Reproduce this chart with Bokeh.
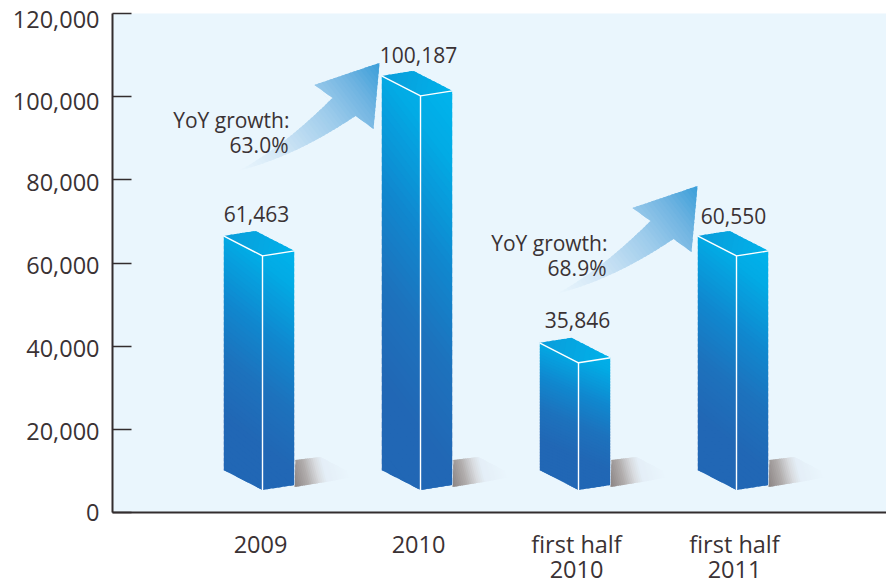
from bokeh.plotting import figure
from bokeh.models import Range1d, FixedTicker, LinearAxis
from bokeh.core.properties import value
from bokeh.embed import file_html
from bokeh.resources import INLINE

# ---- data ----
categories = ["2009", "2010", "first half\n2010", "first half\n2011"]
values = [61463, 100187, 35846, 60550]
value_labels = ["61,463", "100,187", "35,846", "60,550"]
# the last column is drawn slightly taller than its printed figure
drawn_heights = [61700, 100187, 36000, 61700]
growth_labels = [("YoY growth:", "63.0%"), ("YoY growth:", "68.9%")]
y_ticks = [0, 20000, 40000, 60000, 80000, 100000, 120000]
y_tick_labels = ["0", "20,000", "40,000", "60,000", "80,000", "100,000", "120,000"]
y_label_drop = [0, 2, 2, 2, 3, 5, 6]   # the printed labels sit a little below their ticks

# ---- layout / style ----
FONT = "Open Sans"
TEXT = "#3a3234"
BG = "#eaf6fd"
W, H = 886, 588
LEFT, TOP, BOTTOM = 112, 13, 76
UX = 158.0                     # pixels per category step
UY = 499.0 / 120000.0          # pixels per value unit
X0_PX = 148.0                  # distance of the first category from the y axis
BAR_SHIFT = 2.0
BASE_PX = 22.5                 # the front foot of a column floats this far above the axis


def dx(px):
    return px / UX


def dy(px):
    return -px / UY          # px measured downward


def lerp(a, b, t):
    return a + (b - a) * t


def hex2rgb(h):
    return tuple(int(h[i:i + 2], 16) for i in (1, 3, 5))


def ramp(stops, t):
    t = max(0.0, min(1.0, t))
    for (t0, c0), (t1, c1) in zip(stops, stops[1:]):
        if t <= t1:
            f = (t - t0) / (t1 - t0) if t1 > t0 else 0
            a, b = hex2rgb(c0), hex2rgb(c1)
            return "#%02x%02x%02x" % tuple(round(lerp(a[i], b[i], f)) for i in range(3))
    return stops[-1][1]


FACE = [(0, "#00b6ee"), (0.22, "#02abe5"), (0.5, "#1088cf"), (0.75, "#1d72bd"), (1, "#2167b5")]
TOPF = [(0, "#0a9cda"), (1, "#00b2ea")]
ARROW = [(0, BG), (0.25, "#d3e7f6"), (0.6, "#9ccbeb"), (0.8, "#72b5e2"), (1, "#3a9ed8")]
SHADOW = [(0, "#8a8382"), (0.25, "#b0acac"), (0.45, "#d8dbdf"), (0.58, "#e4eef7"), (1, BG)]

px_polys, py_polys, poly_cols = [], [], []


def add_poly(pts, col):
    px_polys.append([p[0] for p in pts])
    py_polys.append([p[1] for p in pts])
    poly_cols.append(col)


def off(base, ox, oy):
    return (base[0] + dx(ox), base[1] + dy(oy))


def clip(poly, ox, oy, nx, ny, limit, keep_less):
    out = []
    def f(p):
        s = (p[0] - ox) * nx + (p[1] - oy) * ny - limit
        return -s if keep_less else s
    n = len(poly)
    for i in range(n):
        a, b = poly[i], poly[(i + 1) % n]
        fa, fb = f(a), f(b)
        if fa >= 0:
            out.append(a)
        if (fa >= 0) != (fb >= 0):
            r = fa / (fa - fb)
            out.append((lerp(a[0], b[0], r), lerp(a[1], b[1], r)))
    return out


def gradient_poly(px_pts, base, start, end, stops, bands, tmax=1.0):
    """px_pts: pixel offsets from base; gradient runs from start to end (pixel offsets)."""
    vx, vy = end[0] - start[0], end[1] - start[1]
    L2 = vx * vx + vy * vy
    nx, ny = vx / L2, vy / L2
    for k in range(bands):
        t0, t1 = tmax * k / bands, tmax * (k + 1.6) / bands
        b = clip(px_pts, start[0], start[1], nx, ny, t0, False)
        if b:
            b = clip(b, start[0], start[1], nx, ny, t1, True)
        if len(b) >= 3:
            add_poly([off(base, p[0], p[1]) for p in b], ramp(stops, tmax * (k + 0.5) / bands))


def bez(a, c, b, n=12):
    return [(lerp(lerp(a[0], c[0], i / n), lerp(c[0], b[0], i / n), i / n),
             lerp(lerp(a[1], c[1], i / n), lerp(c[1], b[1], i / n), i / n)) for i in range(n + 1)]


def arrow(base):
    # outline in pixel offsets from the arrow tip
    up = (-47, 35)
    low = (-24, 53)
    tail = (-141, 108)
    pts = [(0, 0), (-65, 22), up]
    pts += bez(up, (-96, 84), tail)[1:]
    pts += bez(tail, (-83, 93), low)[1:]
    pts += [(-6, 66)]
    gradient_poly(pts, base, tail, (0, 0), ARROW, 46)


edge_x, edge_y = [], []
soft_x, soft_y = [], []
txt_x, txt_y, txt_s = [], [], []
fronts = []

label_dx = [-6, -2, -1, -3]
label_dy = [-42, -41, -43, -40]

for i, h in enumerate(drawn_heights):
    F = (i + dx(BAR_SHIFT), h)
    fronts.append(F)
    L, R = off(F, -39, -20), off(F, 32, -5)
    Fb = (F[0], dy(-BASE_PX))
    Lb, Rb = off(Fb, -39, -20), off(Fb, 32, -5)
    hp = (F[1] - Fb[1]) * UY
    gradient_poly([(1, -25), (26, -28), (62, -9), (37, -4), (0, 2)], Rb, (0, 2), (55, -12), SHADOW, 30)
    # diagonal gradient shared by both side faces: bright at the upper right
    na, nb = -1 / 300.0, 1 / hp
    n2 = na * na + nb * nb
    s = (32, -20)
    e = (s[0] + na / n2, s[1] + nb / n2)
    gradient_poly([(-39, -20), (0, 0), (0, hp), (-39, hp - 20)], F, s, e, FACE, 56, tmax=1.3)
    gradient_poly([(0, 0), (32, -5), (32, hp - 5), (0, hp)], F, s, e, FACE, 56, tmax=1.3)
    gradient_poly([(0, 0), (32, -5), (-7, -25), (-39, -20)], F, (-39, -20), (32, -5), TOPF, 14)
    edge_x += [[L[0], F[0], R[0]], [F[0], Fb[0]]]
    edge_y += [[L[1], F[1], R[1]], [F[1], Fb[1]]]
    soft_x += [[L[0], Lb[0]], [R[0], Rb[0]]]
    soft_y += [[L[1], Lb[1]], [R[1], Rb[1]]]
    txt_x.append(F[0] + dx(label_dx[i]))
    txt_y.append(F[1] + dy(label_dy[i]))
    txt_s.append(value_labels[i])

# growth arrows point at columns 1 and 3
tip_offset = [(-41, -33), (-39, -70)]
tips = [off(fronts[1], *tip_offset[0]), off(fronts[3], *tip_offset[1])]
for t in tips:
    arrow(t)

x_start = dx(-X0_PX)
p = figure(width=W, height=H, output_backend="svg", toolbar_location=None,
           x_range=Range1d(x_start, dx(W - LEFT - X0_PX)), y_range=Range1d(0, 120000),
           min_border_left=LEFT, min_border_right=0, min_border_top=TOP, min_border_bottom=BOTTOM,
           background_fill_color=BG, border_fill_color="white", outline_line_color=None)
p.grid.visible = False

p.patches(px_polys, py_polys, fill_color=poly_cols, line_color=None)
p.multi_line(soft_x, soft_y, line_color="#ffffff", line_alpha=0.55, line_width=1)
p.multi_line(edge_x, edge_y, line_color="#ffffff", line_width=1.4)

p.text(txt_x, txt_y, text=txt_s, text_font=value(FONT), text_font_size="21px", text_color=TEXT,
       text_align="center", text_baseline="middle")

# growth notes, right aligned beside each arrow
note_x, note_y, note_s = [], [], []
for t, (a, b) in zip(tips, growth_labels):
    q1, q2 = off(t, -90, 57), off(t, -91, 82)
    note_x += [q1[0], q2[0]]
    note_y += [q1[1], q2[1]]
    note_s += [a, b]
p.text(note_x, note_y, text=note_s, text_font=value(FONT), text_font_size="21px", text_color=TEXT,
       text_align="right", text_baseline="middle")

# axis carrying the line and the tick marks
ya = p.yaxis[0]
ya.ticker = FixedTicker(ticks=y_ticks)
ya.major_label_overrides = {t: "" for t in y_ticks}
ya.major_tick_in = 19
ya.major_tick_out = 0
ya.minor_tick_line_color = None
ya.major_tick_line_color = "#332d2e"
ya.major_tick_line_width = 1.5
ya.axis_line_color = "#332d2e"
ya.axis_line_width = 2
ya.major_label_standoff = 0

# companion axis carrying the labels, drawn a few pixels below their ticks
label_ticks = [t + dy(d) for t, d in zip(y_ticks, y_label_drop)]
la = LinearAxis(ticker=FixedTicker(ticks=label_ticks),
                major_label_overrides=dict(zip(label_ticks, y_tick_labels)),
                axis_line_color=None, major_tick_line_color=None, minor_tick_line_color=None,
                major_tick_in=0, major_tick_out=0, major_label_standoff=13,
                major_label_text_font=FONT, major_label_text_font_size="23.5px",
                major_label_text_color=TEXT)
p.add_layout(la, "left")

xa = p.xaxis[0]
xa.ticker = FixedTicker(ticks=list(range(len(categories))))
xa.major_label_overrides = {i: c for i, c in enumerate(categories)}
xa.major_tick_line_color = None
xa.minor_tick_line_color = None
xa.major_tick_in = 0
xa.major_tick_out = 0
xa.axis_line_color = "#332d2e"
xa.axis_line_width = 2
xa.major_label_standoff = 15
xa.major_label_text_font = FONT
xa.major_label_text_font_size = "23.5px"
xa.major_label_text_line_height = 0.8
xa.major_label_text_color = TEXT

open("out.html", "w").write(file_html(p, INLINE))
